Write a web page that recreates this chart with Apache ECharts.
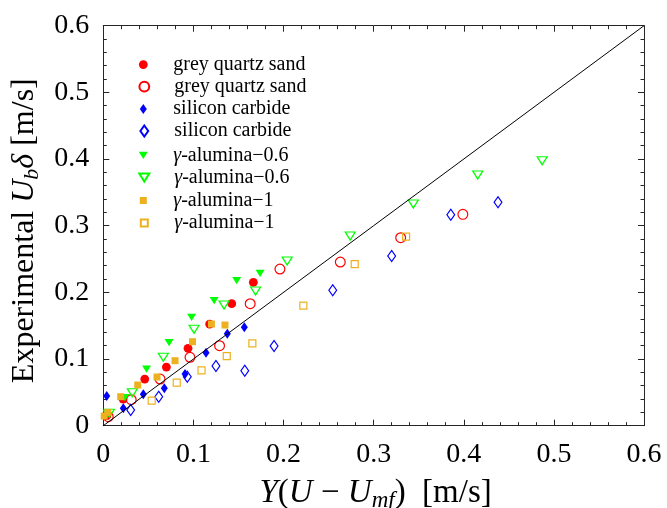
<!DOCTYPE html>
<html><head><meta charset="utf-8">
<script src="https://cdn.jsdelivr.net/npm/echarts@6/dist/echarts.min.js"></script>
<style>html,body{margin:0;padding:0;background:#fff}#c{width:667px;height:508px}</style>
</head><body><div id="c"></div>
<script>
// ---- data ----
const seriesNames = ['grey quartz sand', 'grey quartz sand ', 'silicon carbide', 'silicon carbide ',
  'γ-alumina−0.6', 'γ-alumina−0.6 ', 'γ-alumina−1', 'γ-alumina−1 '];
const quartzFilled = [[0.1665,0.215],[0.1425,0.183],[0.118,0.1525],[0.094,0.116],[0.070,0.088],[0.046,0.070],[0.022,0.040],[0.004,0.015]];
const quartzOpen = [[0.399,0.317],[0.330,0.282],[0.263,0.2455],[0.196,0.235],[0.163,0.183],[0.129,0.120],[0.0962,0.1026],[0.063,0.070],[0.031,0.039],[0.0055,0.0135]];
const sicFilled = [[0.1565,0.1476],[0.1376,0.138],[0.114,0.1095],[0.0907,0.0775],[0.0677,0.056],[0.0444,0.047],[0.0222,0.026],[0.0038,0.0445]];
const sicOpen = [[0.438,0.335],[0.3856,0.3165],[0.320,0.2545],[0.2546,0.203],[0.1895,0.1195],[0.157,0.0825],[0.125,0.0895],[0.0932,0.0735],[0.0615,0.0435],[0.0304,0.0235]];
const alu06Filled = [[0.174,0.2286],[0.148,0.2175],[0.123,0.1875],[0.098,0.1626],[0.073,0.1245],[0.048,0.085],[0.024,0.042],[0.004,0.0186]];
const alu06Open = [[0.487,0.3975],[0.4155,0.376],[0.344,0.3325],[0.274,0.2845],[0.204,0.247],[0.169,0.202],[0.134,0.181],[0.1007,0.1446],[0.0666,0.1026],[0.0322,0.0495],[0.0067,0.0186]];
const alu1Filled = [[0.135,0.151],[0.120,0.1525],[0.099,0.126],[0.0796,0.0975],[0.0596,0.073],[0.0382,0.061],[0.0193,0.0435],[0.005,0.020],[0.001,0.0145]];
const alu1Open = [[0.336,0.2835],[0.279,0.2425],[0.222,0.180],[0.1654,0.1236],[0.137,0.1045],[0.109,0.083],[0.0815,0.0645],[0.0537,0.0375]];
const diagX = [0, 0.6];
const diagY = [0, 0.6];
const xTicks = [0, 0.1, 0.2, 0.3, 0.4, 0.5, 0.6];
const yTicks = [0, 0.1, 0.2, 0.3, 0.4, 0.5, 0.6];

// ---- style ----
const F = '"Liberation Serif", "Times New Roman", serif';
const AX = '#262626';
const RED = '#ff0000', BLUE = '#0000ff', GREEN = '#00ff00', ORANGE = '#edb120';
const DOWN = 'path://M0,0L2,0L1,1.6Z';
const seriesData = [quartzFilled, quartzOpen, sicFilled, sicOpen, alu06Filled, alu06Open, alu1Filled, alu1Open];
const styles = [
  {symbol:'circle', size:8.8, color:RED, open:false},
  {symbol:'circle', size:9.8, color:RED, open:true},
  {symbol:'diamond', size:[7,10], color:BLUE, open:false},
  {symbol:'diamond', size:[7.8,11], color:BLUE, open:true},
  {symbol:DOWN, size:[9,7.2], color:GREEN, open:false},
  {symbol:DOWN, size:[10,8], color:GREEN, open:true},
  {symbol:'rect', size:7, color:ORANGE, open:false},
  {symbol:'rect', size:7, color:ORANGE, open:true}
];

const series = seriesNames.map((n, i) => {
  const s = styles[i];
  return {
    name: n, type: 'scatter', data: seriesData[i], symbol: s.symbol, symbolSize: s.size,
    z: 3,
    itemStyle: s.open ? {color: 'rgba(255,255,255,0)', borderColor: s.color, borderWidth: 1.2, opacity: 1}
                      : {color: s.color, borderWidth: 0, opacity: 1},
    emphasis: {disabled: true}
  };
});
series.push({
  type: 'line', data: diagX.map((x, i) => [x, diagY[i]]), symbol: 'none', silent: true, z: 4,
  lineStyle: {color: '#000', width: 1}
});

const legends = seriesNames.map((n, i) => {
  const s = styles[i];
  const w = Array.isArray(s.size) ? s.size[0] : s.size;
  const h = Array.isArray(s.size) ? s.size[1] : s.size;
  const cy = 59 + i * 22.5;
  return {
    data: [{name: n}], orient: 'vertical', left: 143.3 - w / 2, top: cy - h / 2, padding: 0,
    itemWidth: w, itemHeight: h, symbolKeepAspect: false, selectedMode: false,
    formatter: (name) => name.indexOf('γ') === 0 ? '{g|γ}' + name.slice(1).trim() : name.trim(),
    textStyle: {fontFamily: F, fontSize: 20, color: '#000', lineHeight: h,
      padding: [0, 0, 0, 25 - w / 2],
      rich: {g: {fontFamily: F, fontSize: 20, fontStyle: 'italic', lineHeight: h}}}
  };
});

function richName(fs) {
  return {
    r: {fontFamily: F, fontSize: fs, color: '#000', lineHeight: 36, verticalAlign: 'middle'},
    i: {fontFamily: F, fontSize: fs, fontStyle: 'italic', color: '#000', lineHeight: 36, verticalAlign: 'middle'},
    s: {fontFamily: F, fontSize: Math.round(fs * 0.7), fontStyle: 'italic', color: '#000',
        lineHeight: 18, padding: [16, 0, 0, 0], verticalAlign: 'middle'}
  };
}

function axisBase(showLabel, ticks) {
  return {
    type: 'value', min: 0, max: 0.6, interval: 0.1,
    axisLine: {show: true, onZero: false, lineStyle: {color: AX, width: 1}},
    axisTick: {show: true, inside: true, length: 6, lineStyle: {color: AX, width: 1}},
    minorTick: {show: true, splitNumber: 5, length: 3.5, lineStyle: {color: AX, width: 1}},
    splitLine: {show: false},
    axisLabel: {show: showLabel, fontFamily: F, fontSize: 28, color: '#000',
      formatter: (v) => { const t = ticks.find(k => Math.abs(k - v) < 1e-9); return String(t !== undefined ? t : v); }}
  };
}

const xb = axisBase(true, xTicks);
xb.position = 'bottom';
xb.axisLabel.margin = 15;
xb.name = '{i|Y}{r|(}{i|U}{r| − }{i|U}{s|mf}{r|)  [m/s]}';
xb.nameLocation = 'middle';
xb.nameGap = 42;
xb.nameTextStyle = {fontFamily: F, fontSize: 33, color: '#000', lineHeight: 36, padding: [0, 0, 0, 4], rich: richName(33)};
const xt = axisBase(false, xTicks); xt.position = 'top';

const yl = axisBase(true, yTicks);
yl.position = 'left';
yl.axisLabel.margin = 14;
yl.name = '{r|Experimental }{i|U}{s|b}{i|δ}{r| [m/s]}';
yl.nameLocation = 'middle';
yl.nameGap = 54;
yl.nameTextStyle = {fontFamily: F, fontSize: 32, color: '#000', lineHeight: 36, padding: [0, 10, 0, 0], rich: richName(32)};
const yr = axisBase(false, yTicks); yr.position = 'right';

const option = {
  backgroundColor: '#fff',
  animation: false,
  grid: {left: 103.3, right: 23, top: 25.7, bottom: 82.3, containLabel: false, outerBoundsMode: 'none'},
  legend: legends,
  xAxis: [xb, xt],
  yAxis: [yl, yr],
  series: series
};

const chart = echarts.init(document.getElementById('c'), null, {renderer: 'canvas'});
chart.setOption(option);
</script>
</body></html>
